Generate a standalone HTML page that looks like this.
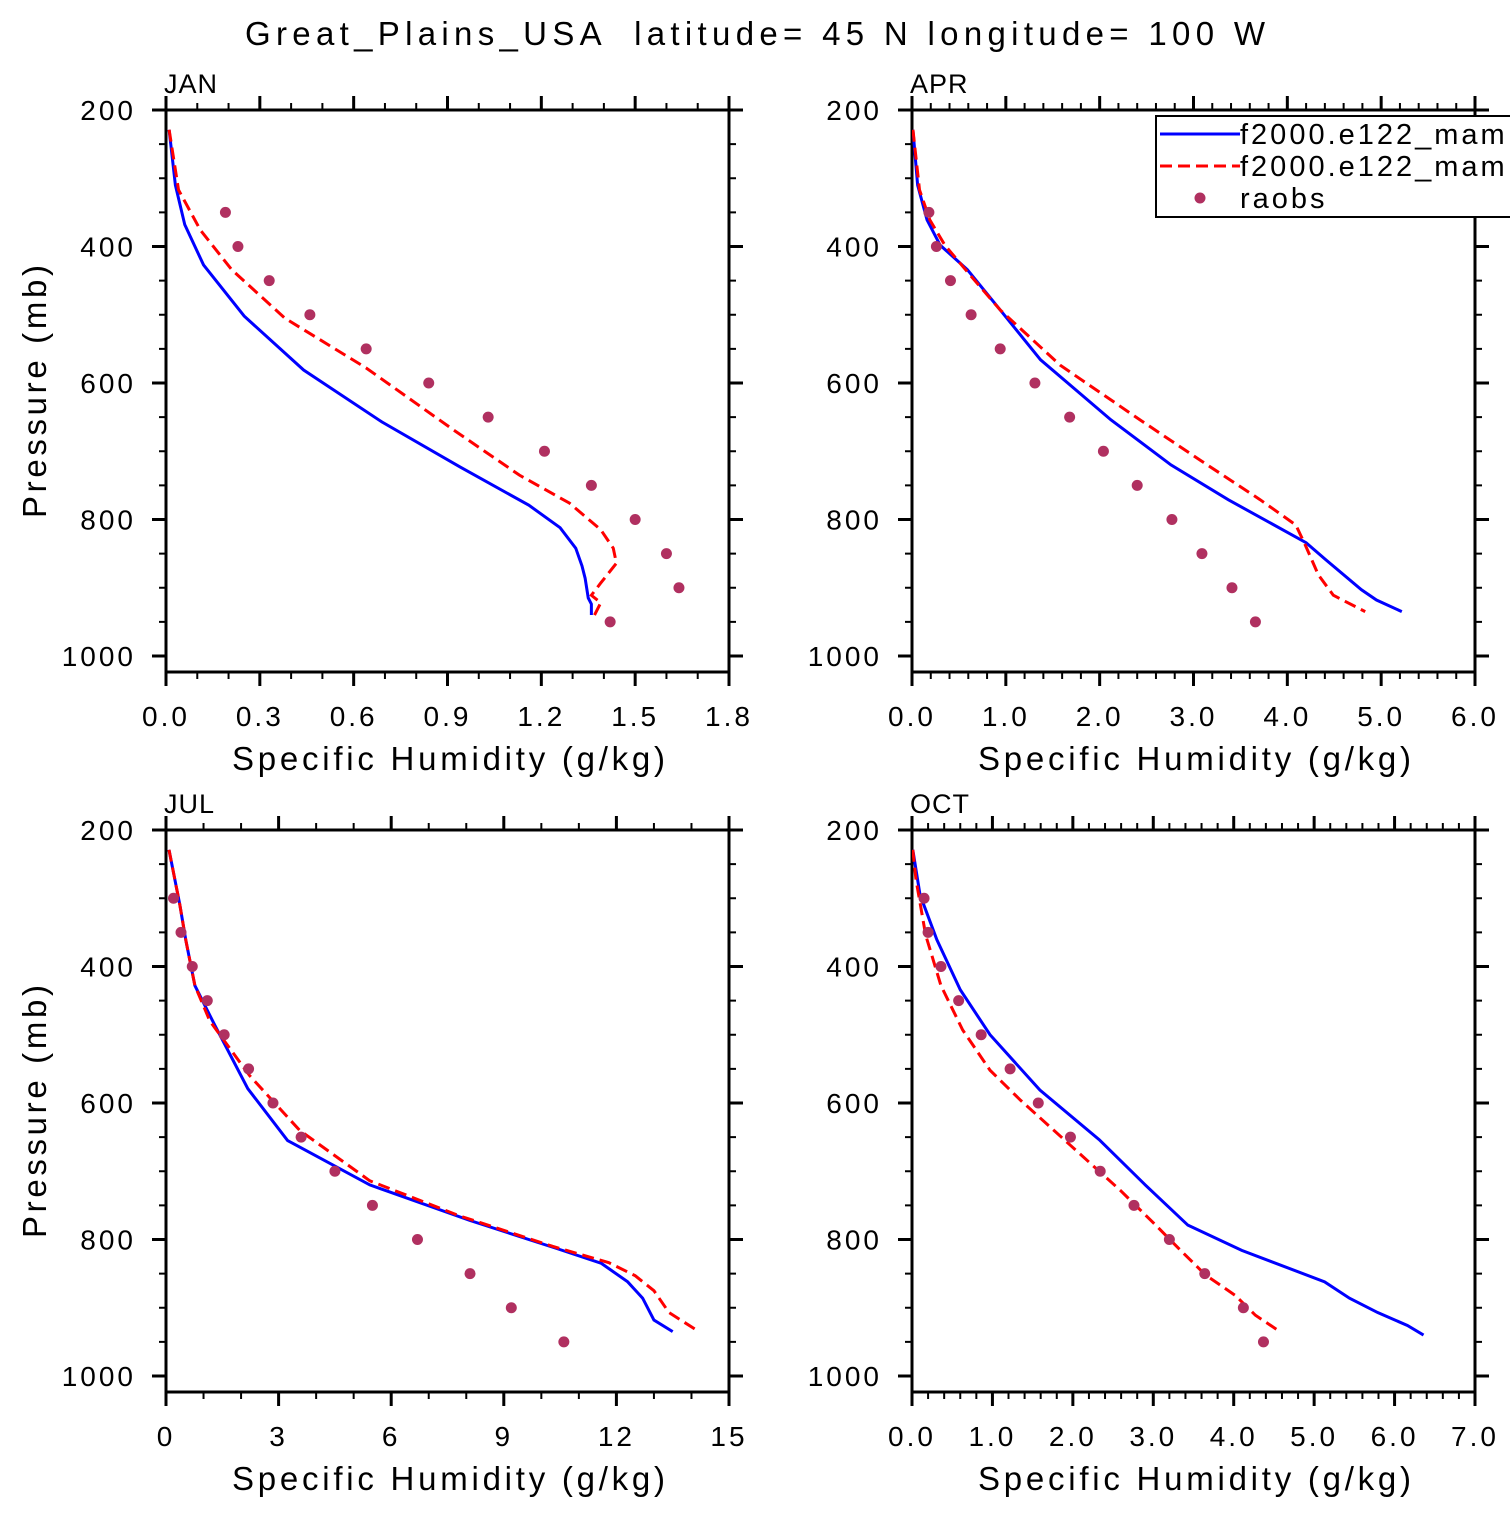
<!DOCTYPE html>
<html><head><meta charset="utf-8"><style>
body{margin:0;background:#fff}
svg text{font-family:"Liberation Sans",sans-serif;fill:#000}
</style></head><body>
<svg id="c" width="1510" height="1510" viewBox="0 0 1510 1510" xmlns="http://www.w3.org/2000/svg">
<text x="245" y="45" font-size="33" textLength="1020" lengthAdjust="spacing" xml:space="preserve">Great_Plains_USA  latitude= 45 N longitude= 100 W</text>
</svg>
<script>
const janBlueP=[229,310,368,427,502,581,657,723,779,812,842,868,886,915,924,940];
const janBlueQ=[0.01,0.03,0.06,0.12,0.25,0.44,0.69,0.94,1.16,1.26,1.31,1.33,1.34,1.35,1.36,1.36];
const janRedP=[229,317,376,434,505,578,669,735,776,815,842,864,893,911,922,940];
const janRedQ=[0.01,0.04,0.11,0.21,0.38,0.64,0.92,1.13,1.29,1.39,1.43,1.44,1.39,1.36,1.39,1.37];
const janObsQ=[0.19,0.23,0.33,0.46,0.64,0.84,1.03,1.21,1.36,1.50,1.60,1.64,1.42];
const janObsP=[350,400,450,500,550,600,650,700,750,800,850,900,950];
const aprBlueP=[229,310,361,398,434,493,566,654,720,771,834,859,903,918,935];
const aprBlueQ=[0.01,0.06,0.16,0.30,0.59,0.94,1.37,2.12,2.76,3.37,4.2,4.41,4.79,4.95,5.22];
const aprRedP=[229,317,361,398,442,493,574,654,713,771,808,837,881,911,935];
const aprRedQ=[0.01,0.08,0.19,0.35,0.62,0.94,1.58,2.43,3.07,3.71,4.09,4.19,4.33,4.49,4.83];
const aprObsQ=[0.18,0.26,0.41,0.63,0.94,1.31,1.68,2.04,2.40,2.77,3.09,3.41,3.66];
const aprObsP=[350,400,450,500,550,600,650,700,750,800,850,900,950];
const julBlueP=[229,310,362,428,486,579,655,720,772,813,835,862,886,918,935];
const julBlueQ=[0.08,0.37,0.53,0.77,1.30,2.18,3.24,5.43,8.09,10.4,11.6,12.3,12.7,13.0,13.5];
const julRedP=[229,310,362,428,480,560,640,714,765,810,834,853,875,907,935];
const julRedQ=[0.08,0.37,0.53,0.77,1.17,2.23,3.56,5.43,7.8,10.3,11.8,12.5,13.0,13.4,14.2];
const julObsQ=[0.2,0.4,0.7,1.1,1.55,2.2,2.85,3.6,4.5,5.5,6.7,8.1,9.2,10.6];
const julObsP=[300,350,400,450,500,550,600,650,700,750,800,850,900,950];
const octBlueP=[229,295,361,434,500,581,654,720,779,816,862,886,907,926,940];
const octBlueQ=[0.01,0.1,0.31,0.6,0.97,1.59,2.33,2.9,3.43,4.1,5.13,5.44,5.79,6.16,6.36];
const octRedP=[229,273,354,428,493,552,596,662,728,779,816,852,882,911,933];
const octRedQ=[0.01,0.05,0.17,0.36,0.63,0.97,1.35,1.97,2.59,3.03,3.34,3.65,4.02,4.27,4.55];
const octObsQ=[0.15,0.2,0.36,0.58,0.86,1.22,1.57,1.97,2.34,2.76,3.2,3.64,4.12,4.37];
const octObsP=[300,350,400,450,500,550,600,650,700,750,800,850,900,950];
const janTicks=["0.0","0.3","0.6","0.9","1.2","1.5","1.8"];
const aprTicks=["0.0","1.0","2.0","3.0","4.0","5.0","6.0"];
const julTicks=["0","3","6","9","12","15"];
const octTicks=["0.0","1.0","2.0","3.0","4.0","5.0","6.0","7.0"];
const pTicks=[200,400,600,800,1000];

const NS="http://www.w3.org/2000/svg";
const svg=document.getElementById('c');
function mk(tag,attrs,parent){const e=document.createElementNS(NS,tag);for(const k in attrs)e.setAttribute(k,attrs[k]);(parent||svg).appendChild(e);return e;}

function panel(name,x0,y0,xmax,ticks,minorStep,bq,bp,rq,rp,oq,op,showYTitle){
  const W=563,H=562;
  const g=mk('g',{});
  
  
  const sx=v=>x0+v/xmax*W;
  const sy=p=>y0+(p-200)*0.6825;
  const cp=mk('clipPath',{id:'clip-'+name},g);
  mk('rect',{x:x0,y:y0,width:W,height:H},cp);
  const box=mk('rect',{x:x0,y:y0,width:W,height:H,fill:'none',stroke:'#000','stroke-width':3},g);
  
  
  const nMinor=Math.round(xmax/minorStep);
  const majStep=xmax/(ticks.length-1);
  for(let i=0;i<=nMinor;i++){
    const v=i*minorStep;const x=sx(v);
    const major=Math.abs(v/majStep-Math.round(v/majStep))<1e-6;
    const L=major?14:7;
    mk('line',{x1:x,x2:x,y1:y0+H,y2:y0+H+L,stroke:'#000','stroke-width':major?3:2},g);
    mk('line',{x1:x,x2:x,y1:y0,y2:y0-L,stroke:'#000','stroke-width':major?3:2},g);
  }
  ticks.forEach((t,i)=>{
    const tx=mk('text',{x:sx(i*majStep),y:y0+H+54,'text-anchor':'middle','font-size':28,'letter-spacing':3},g);
    tx.textContent=t;
    
    
  });
  for(let p=200;p<=1000;p+=50){
    const y=sy(p);const major=p%200===0;const L=major?14:7;
    mk('line',{x1:x0,x2:x0-L,y1:y,y2:y,stroke:'#000','stroke-width':major?3:2},g);
    mk('line',{x1:x0+W,x2:x0+W+L,y1:y,y2:y,stroke:'#000','stroke-width':major?3:2},g);
  }
  pTicks.forEach(p=>{
    const tx=mk('text',{x:x0-30,y:sy(p)+10,'text-anchor':'end','font-size':28,'letter-spacing':3},g);
    tx.textContent=p;
    
    
  });
  const lab=mk('text',{x:x0-2,y:y0-17,'font-size':27,'letter-spacing':1},g);
  lab.textContent=name.toUpperCase();
  
  
  const xt=mk('text',{x:x0+66,y:y0+H+98,'font-size':33,textLength:433,lengthAdjust:'spacing'},g);
  xt.textContent='Specific Humidity (g/kg)';
  
  
  if(showYTitle){
    const yt=mk('text',{x:0,y:0,'font-size':33,textLength:253,lengthAdjust:'spacing',transform:`translate(46,${y0+408}) rotate(-90)`},g);
    yt.textContent='Pressure (mb)';
    
    
  }
  const cg=mk('g',{'clip-path':`url(#clip-${name})`},g);
  const bl=mk('polyline',{points:bq.map((q,i)=>sx(q)+','+sy(bp[i])).join(' '),fill:'none',stroke:'#0000ff','stroke-width':3},cg);
  
  
  const rl=mk('polyline',{points:rq.map((q,i)=>sx(q)+','+sy(rp[i])).join(' '),fill:'none',stroke:'#ff0000','stroke-width':3,'stroke-dasharray':'12,6'},cg);
  
  
  oq.forEach((q,i)=>{
    const c=mk('circle',{cx:sx(q),cy:sy(op[i]),r:5.5,fill:'#b03060'},cg);
    
    
  });
}
panel('jan',166,110,1.8,janTicks,0.1,janBlueQ,janBlueP,janRedQ,janRedP,janObsQ,janObsP,true);
panel('apr',912,110,6,aprTicks,0.2,aprBlueQ,aprBlueP,aprRedQ,aprRedP,aprObsQ,aprObsP,false);
panel('jul',166,830,15,julTicks,1,julBlueQ,julBlueP,julRedQ,julRedP,julObsQ,julObsP,true);
panel('oct',912,830,7,octTicks,0.2,octBlueQ,octBlueP,octRedQ,octRedP,octObsQ,octObsP,false);

const lg=mk('g',{});


mk('rect',{x:1156,y:116,width:360,height:101,fill:'#fff',stroke:'#000','stroke-width':2},lg);
mk('line',{x1:1160,x2:1240,y1:134,y2:134,stroke:'#0000ff','stroke-width':3},lg);
mk('line',{x1:1160,x2:1240,y1:166,y2:166,stroke:'#ff0000','stroke-width':3,'stroke-dasharray':'12,6'},lg);
mk('circle',{cx:1200,cy:198,r:5.5,fill:'#b03060'},lg);
const l1=mk('text',{x:1240,y:144,'font-size':29,'letter-spacing':3},lg);l1.textContent='f2000.e122_mam';


const l2=mk('text',{x:1240,y:176,'font-size':29,'letter-spacing':3},lg);l2.textContent='f2000.e122_mam';


const l3=mk('text',{x:1240,y:208,'font-size':29,'letter-spacing':3},lg);l3.textContent='raobs';


</script>
</body></html>
